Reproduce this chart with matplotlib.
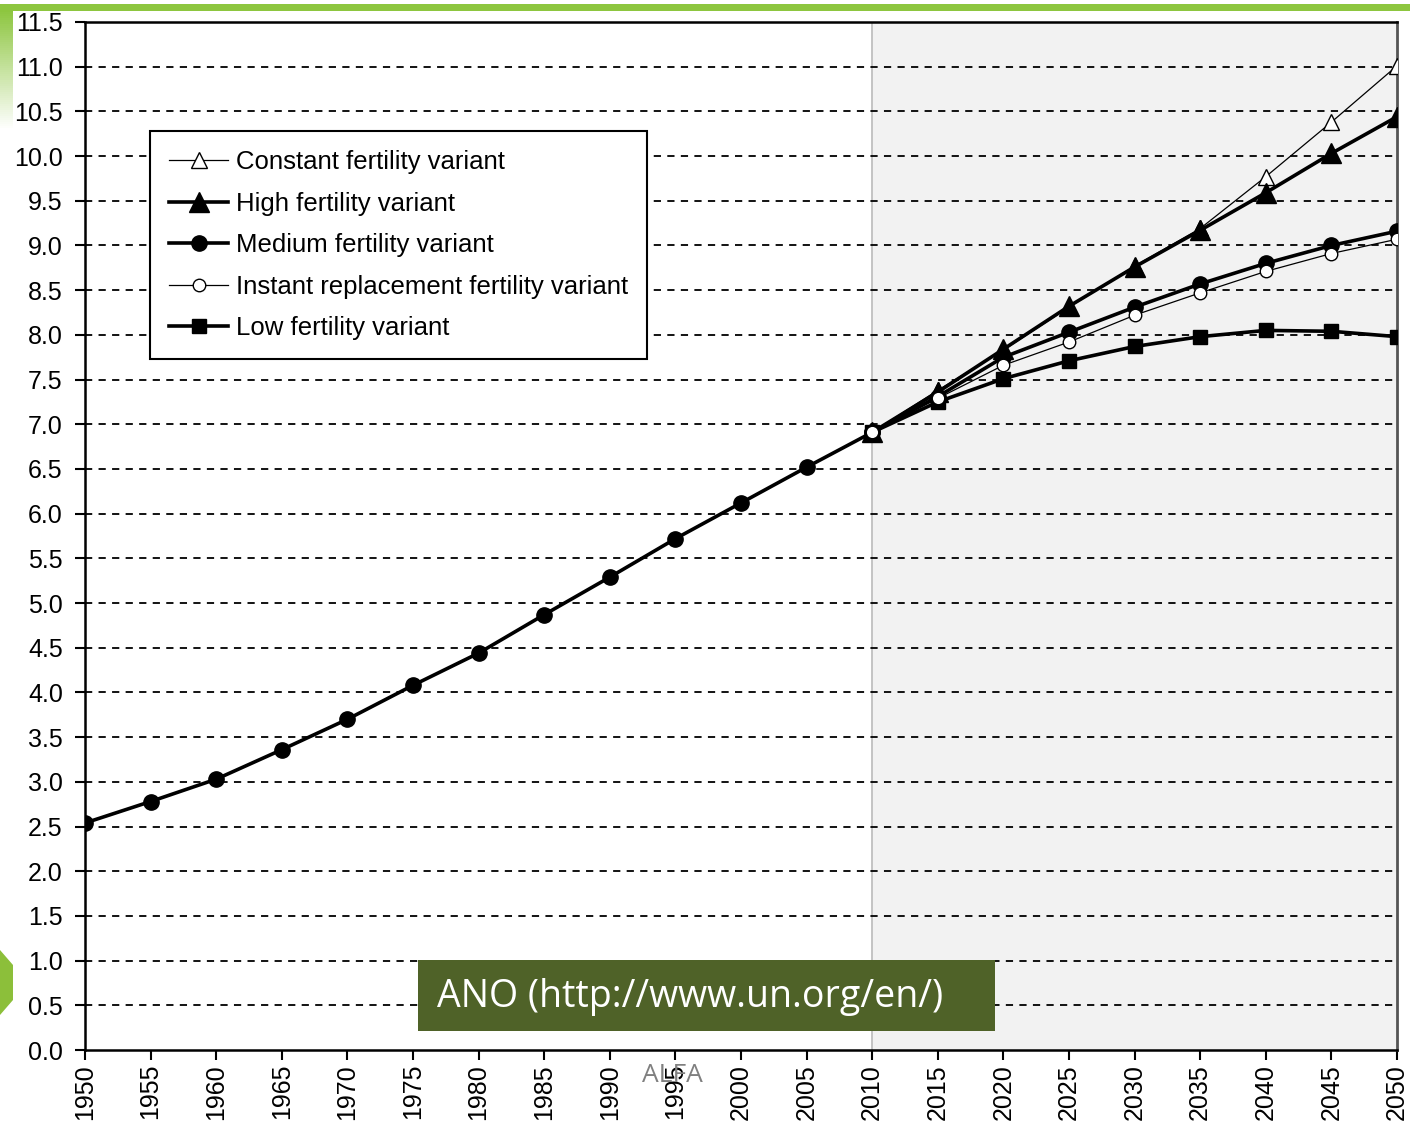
import numpy as np
import matplotlib.pyplot as plt
from matplotlib.patches import Rectangle, Polygon

# World population (billions)
hist_years = [1950, 1955, 1960, 1965, 1970, 1975, 1980, 1985, 1990, 1995, 2000, 2005, 2010]
hist_pop = [2.54, 2.78, 3.03, 3.36, 3.70, 4.08, 4.44, 4.87, 5.29, 5.72, 6.12, 6.52, 6.91]

proj_years = [2010, 2015, 2020, 2025, 2030, 2035, 2040, 2045, 2050]
constant = [6.91, 7.38, 7.83, 8.31, 8.77, 9.19, 9.77, 10.38, 11.01]
high = [6.91, 7.36, 7.84, 8.32, 8.76, 9.17, 9.59, 10.03, 10.44]
medium = [6.91, 7.31, 7.75, 8.03, 8.31, 8.57, 8.80, 9.00, 9.16]
instant = [6.91, 7.29, 7.66, 7.92, 8.22, 8.47, 8.71, 8.91, 9.07]
low = [6.91, 7.25, 7.51, 7.71, 7.87, 7.98, 8.05, 8.04, 7.98]

x_ticks = list(range(1950, 2051, 5))
y_ticks = np.arange(0, 11.51, 0.5)

font = 'Liberation Sans'

fig = plt.figure(figsize=(14.1, 11.21), dpi=100)
ax = fig.add_axes([0.0603, 0.0633, 0.9305, 0.9171])

# projection period shading
ax.axvspan(2010, 2050, color='#f2f2f2', zorder=0)
ax.axvline(2010, color='#bbbbbb', lw=1.2, zorder=1)

# grid
for yv in y_ticks[1:-1]:
    ax.axhline(yv, color='black', lw=1.3, ls=(0, (4, 3.5)), zorder=2)

# series
ax.plot(proj_years, constant, color='black', lw=0.9, marker='^', ms=12,
        mfc='white', mec='black', mew=1.0, zorder=4, label='Constant fertility variant')
ax.plot(proj_years, high, color='black', lw=2.6, marker='^', ms=14,
        mfc='black', mec='black', zorder=5, label='High fertility variant')
ax.plot(hist_years, hist_pop, color='black', lw=2.6, marker='o', ms=11,
        mfc='black', mec='black', zorder=5)
ax.plot(proj_years, medium, color='black', lw=2.6, marker='o', ms=11,
        mfc='black', mec='black', zorder=5, label='Medium fertility variant')
ax.plot(proj_years, instant, color='black', lw=0.9, marker='o', ms=9,
        mfc='white', mec='black', mew=1.0, zorder=6, label='Instant replacement fertility variant')
ax.plot(proj_years, low, color='black', lw=2.6, marker='s', ms=10,
        mfc='black', mec='black', zorder=5, label='Low fertility variant')

ax.set_xlim(1950, 2050)
ax.set_ylim(0, 11.5)
ax.set_xticks(x_ticks)
ax.set_xticklabels([str(v) for v in x_ticks], rotation=90, family=font, fontsize=18)
ax.set_yticks(y_ticks)
ax.set_yticklabels([f"{v:.1f}" for v in y_ticks], family=font, fontsize=18)
ax.tick_params(axis='both', direction='out', length=7, width=1.5, color='black')
ax.tick_params(axis='y', pad=9)
ax.tick_params(axis='x', pad=3)

for side in ['left', 'bottom', 'top']:
    ax.spines[side].set_linewidth(1.8)
    ax.spines[side].set_color('black')
ax.spines['right'].set_linewidth(2)
ax.spines['right'].set_color('#555555')

leg = ax.legend(loc='upper left', bbox_to_anchor=(0.0495, 0.894), prop={'family': font, 'size': 18.5},
                frameon=True, fancybox=False, edgecolor='black', framealpha=1,
                handlelength=2.3, handletextpad=0.3, labelspacing=0.68, borderpad=0.75,
                borderaxespad=0)
leg.get_frame().set_linewidth(1.5)
leg.set_zorder(10)

# source label box
fig.patches.append(Rectangle((418 / 1410, 1 - 1031 / 1121), 577 / 1410, 71 / 1121,
                             transform=fig.transFigure, facecolor='#4f6228',
                             edgecolor='none', zorder=20))
fig.text(437 / 1410, 1 - 997 / 1121, 'ANO (http://www.un.org/en/)', color='white',
         fontsize=27, family='Open Sans', va='center', ha='left', zorder=21)
fig.text(672 / 1410, 1 - 1075 / 1121, 'ALFA', color='#808080', fontsize=19,
         family='Open Sans', va='center', ha='center', zorder=21)

# slide decorations
fig.patches.append(Rectangle((0, 1 - 11 / 1121), 1, 7 / 1121, transform=fig.transFigure,
                             facecolor='#8dc63f', edgecolor='none', zorder=20))
grad = fig.add_axes([0, 1 - 130 / 1121, 13 / 1410, 120 / 1121])
fade = np.zeros((60, 1, 4))
fade[:, :, 0] = 0x8d / 255
fade[:, :, 1] = 0xc6 / 255
fade[:, :, 2] = 0x3f / 255
fade[:, 0, 3] = np.linspace(1, 0, 60)
grad.imshow(fade, aspect='auto')
grad.axis('off')
fig.patches.append(Polygon([(0, 1 - 950 / 1121), (13 / 1410, 1 - 965 / 1121),
                            (13 / 1410, 1 - 1000 / 1121), (0, 1 - 1015 / 1121)],
                           closed=True, transform=fig.transFigure,
                           facecolor='#8cbf3a', edgecolor='none', zorder=20))

fig.savefig('out.png', dpi=100)
